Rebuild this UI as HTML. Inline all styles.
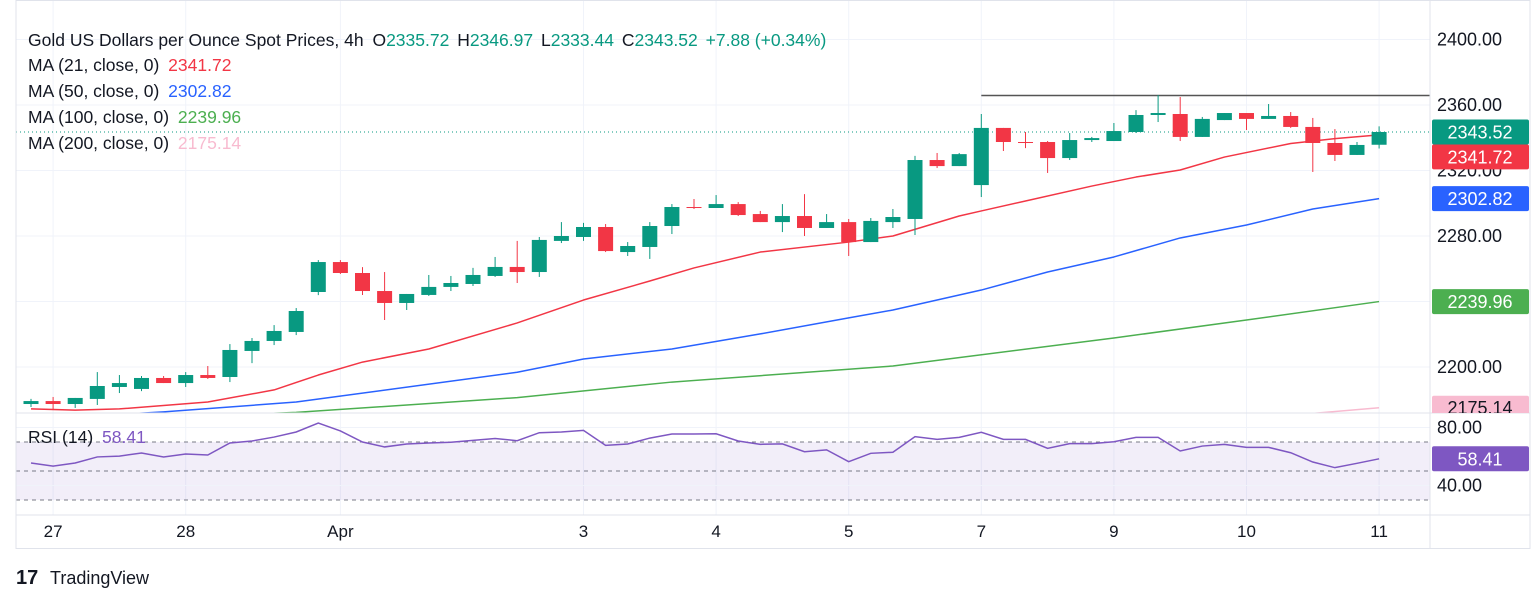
<!DOCTYPE html>
<html><head><meta charset="utf-8"><style>
body{margin:0;background:#fff;width:1536px;height:603px;overflow:hidden;font-family:"Liberation Sans",sans-serif;}
svg text{font-family:"Liberation Sans",sans-serif;}
</style></head><body>
<svg id="c" width="1536" height="603" viewBox="0 0 1536 603">
<g id="grid"></g>
<g id="rsibg"></g>
<g id="mas"></g>
<g id="candles"></g>
<g id="axis"></g>
<g id="legend">
<text x="28" y="46" font-size="17.5" fill="#131722">Gold US Dollars per Ounce Spot Prices, 4h <tspan dx="4">O</tspan><tspan fill="#089981">2335.72</tspan> <tspan dx="3">H</tspan><tspan fill="#089981">2346.97</tspan> <tspan dx="3">L</tspan><tspan fill="#089981">2333.44</tspan> <tspan dx="3">C</tspan><tspan fill="#089981">2343.52</tspan> <tspan dx="3" fill="#089981">+7.88 (+0.34%)</tspan></text>
<text x="28" y="71" font-size="17.5" fill="#131722">MA (21, close, 0) <tspan dx="4" fill="#F23645">2341.72</tspan></text>
<text x="28" y="97" font-size="17.5" fill="#131722">MA (50, close, 0) <tspan dx="4" fill="#2962FF">2302.82</tspan></text>
<text x="28" y="123" font-size="17.5" fill="#131722">MA (100, close, 0) <tspan dx="4" fill="#4CAF50">2239.96</tspan></text>
<text x="28" y="149" font-size="17.5" fill="#131722">MA (200, close, 0) <tspan dx="4" fill="#F8BBD0">2175.14</tspan></text>
<text x="28" y="443" font-size="17.5" fill="#131722">RSI (14) <tspan dx="4" fill="#7E57C2">58.41</tspan></text>
</g>
<g>
<text x="16" y="584" font-size="20" font-weight="bold" fill="#131722">17</text>
<text x="50" y="584" font-size="18" fill="#131722">TradingView</text>
</g>
</svg>
<script>
const opens=[2177.4,2179.2,2177.4,2180.5,2187.8,2186.6,2193.3,2190.2,2195.1,2193.9,2209.8,2215.9,2221.4,2245.8,2264.1,2257.4,2246.4,2239.1,2244,2248.9,2250.7,2255.6,2261.1,2258,2277,2279.4,2285.5,2270.2,2273.3,2286.1,2297.7,2297.1,2299.5,2293.4,2288.5,2292.2,2284.9,2288.5,2276.3,2288.5,2290.4,2326.4,2322.7,2311.1,2346,2337.4,2337.4,2327.6,2338.6,2338,2343.5,2353.9,2354.5,2340.5,2350.8,2355.1,2351.5,2353.3,2346.6,2336.8,2329.5,2335.72];
const highs=[2180.5,2181.7,2181.1,2196.9,2195.1,2194.5,2194.5,2196.9,2200.6,2214,2217.7,2225.6,2236,2265.3,2265.3,2261,2258,2244.6,2256.2,2255.6,2260.5,2267.2,2277,2279.4,2288.5,2288,2287.3,2276.3,2288.5,2299.5,2302.6,2305,2300.7,2295.3,2299.5,2305.6,2293.4,2290.4,2291,2296.5,2328.9,2330.7,2330.7,2354.5,2346,2343.5,2338,2342.9,2340.5,2349,2356.9,2366.1,2364.9,2352.7,2355.1,2355.1,2360.6,2355.7,2352.1,2345.3,2337.4,2346.97];
const lows=[2175.6,2173.7,2175,2176.8,2184.1,2185.3,2190.2,2187.8,2192.7,2190.8,2202.4,2213.4,2219.5,2243.9,2256.8,2244,2228.7,2234.8,2243.4,2246.4,2249.5,2255,2251.3,2255,2275.7,2277,2270.2,2267.8,2266,2281.2,2296.5,2297.1,2292.2,2288.5,2282.4,2280,2284.9,2267.8,2276.3,2284.9,2280.6,2321.5,2322.7,2303.8,2331.9,2333.7,2318.5,2326.4,2337.4,2338,2342.9,2349.6,2338,2340.5,2350.8,2344.7,2351.5,2346,2319.1,2325.8,2329.5,2333.44];
const closes=[2179.2,2177.4,2181.1,2188.4,2190.2,2193.3,2190.2,2195.1,2193.3,2210.4,2215.9,2222,2234.2,2264.1,2257.4,2246.4,2239.1,2244.6,2248.9,2251.3,2256.2,2261.1,2258,2277.6,2280,2285.5,2270.8,2273.9,2286.1,2297.7,2297.1,2299.5,2292.8,2288.5,2292.2,2284.9,2288.5,2276.3,2289.2,2291.6,2326.4,2322.7,2330,2346,2337.4,2336.8,2327.6,2338.6,2339.8,2344.1,2353.9,2355.1,2340.5,2351.5,2355.1,2351.5,2353.3,2346.6,2336.8,2329.5,2335.6,2343.52];
const ma21Idx=[0,2,4,8,11,13,15,18,22,25,28,30,33,37,39,42,43,45,48,50,52,54,57,59,61];
const ma21Val=[2174.4,2173.7,2174.4,2178.6,2186,2195.1,2203,2211,2226.9,2240.9,2252.5,2260.5,2270.2,2276.3,2280,2292.2,2295.3,2301.4,2310.5,2316,2320.3,2328.2,2336.5,2339.5,2341.72];
const ma50Idx=[0,6,12,22,25,29,33,37,39,43,46,49,52,55,58,61];
const ma50Val=[2168,2172.6,2178.6,2196.8,2204.9,2211,2220.2,2230,2234.8,2247,2258,2267.2,2278.8,2286.7,2296.5,2302.82];
const ma100Idx=[0,12,22,29,39,49,55,61];
const ma100Val=[2166,2172.3,2181.3,2190.8,2200.6,2217.7,2228.7,2239.96];
const ma200Idx=[0,57,61];
const ma200Val=[2140,2170.5,2175.14];
const rsiVal=[55.5,53.4,55.5,59.7,60.3,62.4,59.7,61.7,61,69.3,70.7,73.4,76.9,83.1,77.6,70,66.6,68.6,69.3,69.8,71.1,72.4,70.9,76.4,76.9,78,67.7,68.6,72.7,75.5,75.5,75.7,70.7,68.4,68.7,63.3,64.6,56.4,62.2,62.9,73.7,71.8,73.2,76.7,71.8,71.8,65.6,68.9,68.9,70.2,73.2,73.2,63.8,67.2,68.4,66.3,66.3,62.6,56.2,52.3,55.3,58.41];
const priceTicks=[2200,2240,2280,2320,2360,2400];
const priceTickLabels=["2200.00","","2280.00","2320.00","2360.00","2400.00"];
const rsiTicks=[40,80];
const dateIdx=[1,7,14,25,31,37,43,49,55,61];
const dateLabels=["27","28","Apr","3","4","5","7","9","10","11"];
const resistance=2365.8, resStart=43;

const NS="http://www.w3.org/2000/svg";
const X=i=>31+i*22.1;
const Y=p=>105+(2360-p)*1.6375;
const R=r=>442+(70-r)*1.45;
const PL=16,PR=1430,PT=0,PB=413,RB=515;
function mk(tag,at,parent){const e=document.createElementNS(NS,tag);for(const k in at)e.setAttribute(k,at[k]);parent.appendChild(e);return e;}
const g=id=>document.getElementById(id);
const svg=g('c');
const defs=mk('defs',{},svg);
const cp=mk('clipPath',{id:'mainclip'},defs);mk('rect',{x:PL,y:PT,width:PR-PL,height:PB-PT},cp);
const cp2=mk('clipPath',{id:'rsiclip'},defs);mk('rect',{x:PL,y:PB,width:PR-PL,height:RB-PB},cp2);
g('mas').setAttribute('clip-path','url(#mainclip)');g('candles').setAttribute('clip-path','url(#mainclip)');

const G=g('grid');
priceTicks.forEach(p=>{const l=mk('line',{x1:PL,x2:PR,y1:Y(p),y2:Y(p),stroke:'#f0f3fa'},G);

});
dateIdx.forEach(i=>{const l=mk('line',{x1:X(i),x2:X(i),y1:0,y2:RB,stroke:'#f0f3fa'},G);

});
const RG=g('rsibg');
const band=mk('rect',{x:PL,y:R(70),width:PR-PL,height:R(30)-R(70),fill:'rgba(126,87,194,0.1)'},RG);


rsiTicks.forEach(r=>{const l=mk('line',{x1:PL,x2:PR,y1:R(r),y2:R(r),stroke:'#f0f3fa'},RG);

});
[70,50,30].forEach(r=>{const l=mk('line',{x1:PL,x2:PR,y1:R(r),y2:R(r),stroke:'#787b86','stroke-dasharray':'4 4'},RG);

});
const rl=mk('polyline',{points:rsiVal.map((v,i)=>X(i)+','+R(v)).join(' '),fill:'none',stroke:'#7E57C2','stroke-width':1.5,'clip-path':'url(#rsiclip)'},RG);



const M=g('mas');
[[ma200Idx,ma200Val,'#F8BBD0','ma200-line'],[ma100Idx,ma100Val,'#4CAF50','ma100-line'],[ma50Idx,ma50Val,'#2962FF','ma50-line'],[ma21Idx,ma21Val,'#F23645','ma21-line']].forEach(s=>{
const l=mk('polyline',{points:s[0].map((idx,k)=>X(idx)+','+Y(s[1][k])).join(' '),fill:'none',stroke:s[2],'stroke-width':1.5,'stroke-linejoin':'round'},M);

});
const cpl=mk('line',{x1:PL,x2:PR,y1:Y(closes[closes.length-1]),y2:Y(closes[closes.length-1]),stroke:'#089981','stroke-dasharray':'1 3'},M);


const res=mk('line',{x1:X(resStart),x2:PR,y1:Y(resistance),y2:Y(resistance),stroke:'#555','stroke-width':1.5},M);



const C=g('candles');
opens.forEach((o,i)=>{const c=closes[i],up=c>=o,col=up?'#089981':'#F23645';
const grp=mk('g',{},C);


mk('line',{x1:X(i),x2:X(i),y1:Y(highs[i]),y2:Y(lows[i]),stroke:col,'stroke-width':1},grp);
const t=Y(Math.max(o,c)),b=Y(Math.min(o,c));
mk('rect',{x:X(i)-7.5,y:t,width:15,height:Math.max(1,b-t),fill:col},grp);});

const A=g('axis');
mk('line',{x1:PL,x2:1530,y1:PB,y2:PB,stroke:'#e0e3eb'},A);
mk('line',{x1:PL,x2:1530,y1:RB,y2:RB,stroke:'#e0e3eb'},A);
mk('line',{x1:PR,x2:PR,y1:0,y2:548,stroke:'#e0e3eb'},A);
mk('rect',{x:PL,y:0.5,width:1514,height:548,fill:'none',stroke:'#e0e3eb'},A);
priceTicks.forEach((p,k)=>{if(!priceTickLabels[k])return;const t=mk('text',{x:1437,y:Y(p)+6,'font-size':18,fill:'#131722'},A);t.textContent=priceTickLabels[k];

});
rsiTicks.forEach(r=>{const t=mk('text',{x:1437,y:R(r)+6,'font-size':18,fill:'#131722'},A);t.textContent=r.toFixed(2);

});
dateIdx.forEach((i,k)=>{const t=mk('text',{x:X(i),y:537,'font-size':17,fill:'#131722','text-anchor':'middle'},A);t.textContent=dateLabels[k];

});
function tag(val,yc,bg,fg,name){const gg=mk('g',{},A);


mk('rect',{x:1432,y:yc-12.5,width:97,height:25,rx:2,fill:bg},gg);
const t=mk('text',{x:1480,y:yc+6.5,'font-size':18,fill:fg,'text-anchor':'middle'},gg);t.textContent=val;}
tag('2239.96',Y(ma100Val[ma100Val.length-1]),'#4CAF50','#fff','ma100-price-tag');
tag('2302.82',Y(ma50Val[ma50Val.length-1]),'#2962FF','#fff','ma50-price-tag');
tag('2341.72',Y(ma21Val[ma21Val.length-1])+22,'#F23645','#fff','ma21-price-tag');
tag('2343.52',Y(closes[closes.length-1]),'#089981','#fff','last-price-tag');
tag('58.41',R(rsiVal[rsiVal.length-1]),'#7E57C2','#fff','rsi-value-tag');
const pk=mk('g',{'clip-path':'url(#mainclip2)'},A);
const cp3=mk('clipPath',{id:'mainclip2'},defs);mk('rect',{x:1430,y:0,width:106,height:PB},cp3);


mk('rect',{x:1432,y:Y(ma200Val[ma200Val.length-1])-12,width:97,height:25,rx:2,fill:'#F8BBD0'},pk);
const pt=mk('text',{x:1480,y:Y(ma200Val[ma200Val.length-1])+6.5,'font-size':18,fill:'#131722','text-anchor':'middle'},pk);pt.textContent='2175.14';
</script>
</body></html>
